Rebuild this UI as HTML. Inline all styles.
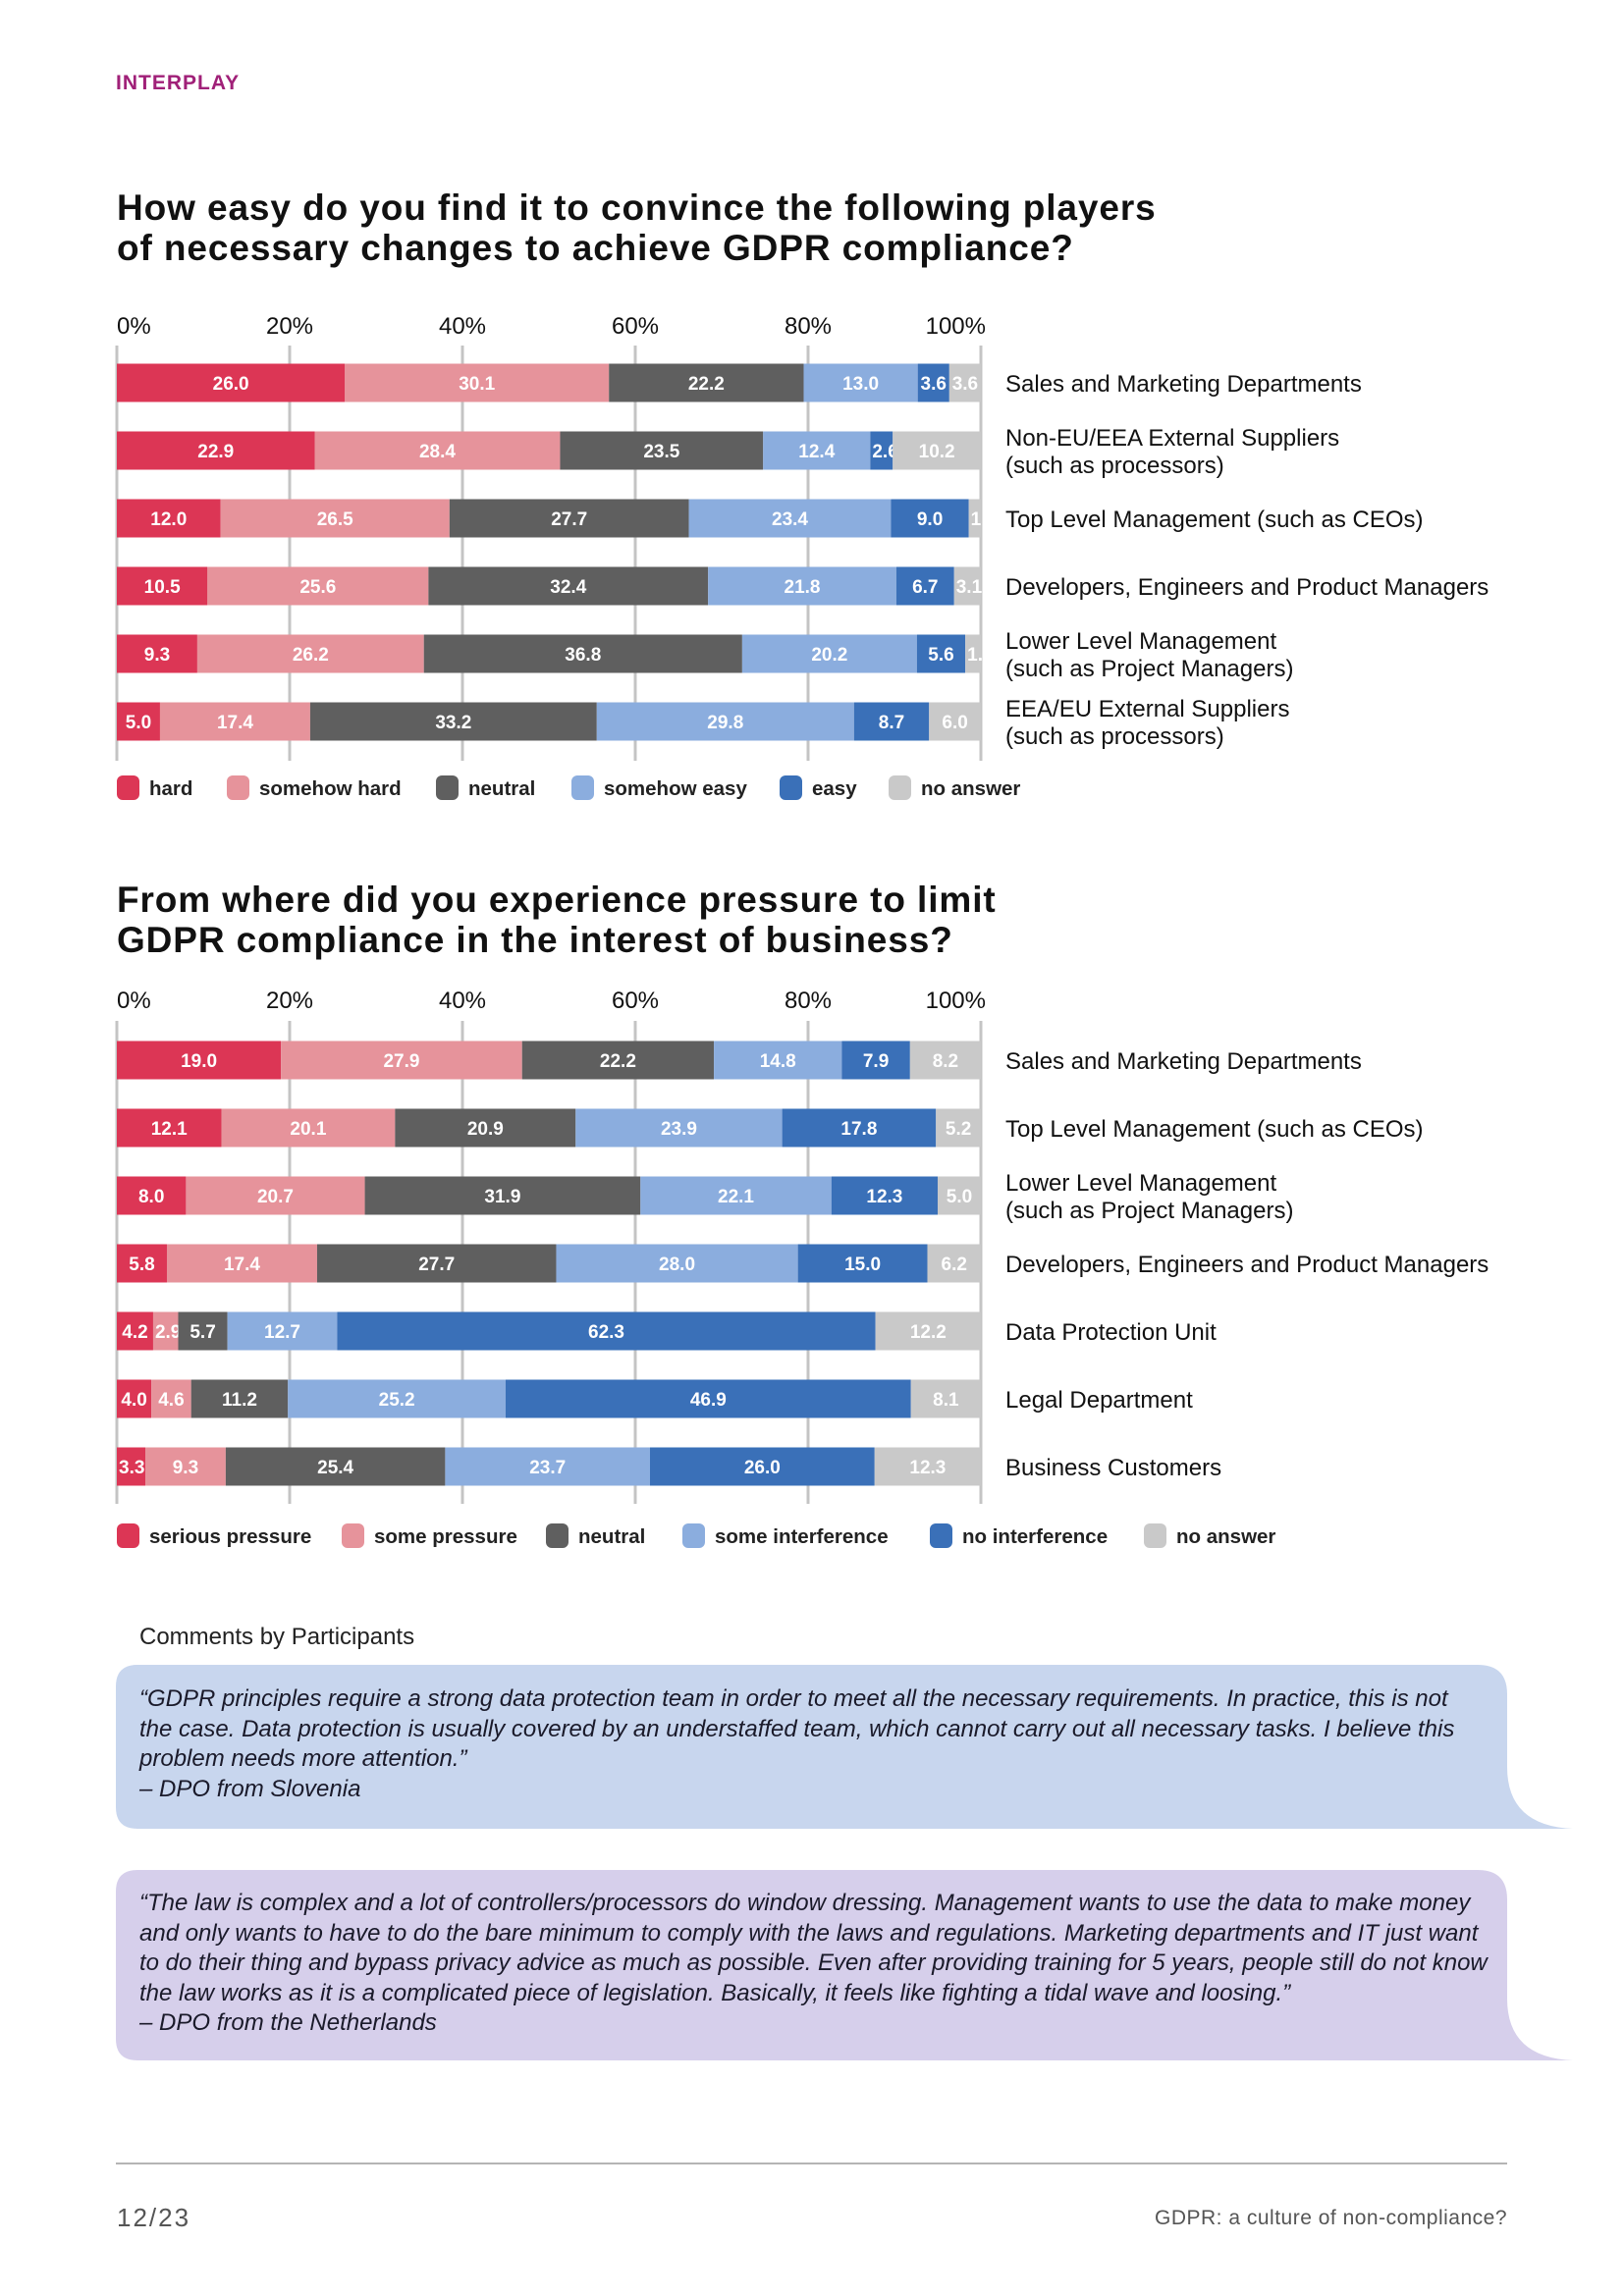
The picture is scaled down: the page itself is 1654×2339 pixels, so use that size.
<!DOCTYPE html>
<html><head><meta charset="utf-8">
<style>
body{margin:0;background:#fff;}
#page{position:relative;width:1654px;height:2339px;overflow:hidden;font-family:"Liberation Sans",sans-serif;color:#111;}
.abs{position:absolute;white-space:nowrap;}
.title{font-weight:bold;font-size:37px;line-height:41px;letter-spacing:0.9px;}
.quote{font-style:italic;font-size:24px;line-height:30.5px;color:#1a1a2a;white-space:normal;}
</style></head>
<body>
<div id="page">
<div class="abs" style="left:118px;top:73px;font-size:21px;font-weight:bold;color:#a02078;letter-spacing:1px;">INTERPLAY</div>
<div class="abs title" style="left:119px;top:191px;">How easy do you find it to convince the following players<br>of necessary changes to achieve GDPR compliance?</div>
<div class="abs title" style="left:119px;top:896px;">From where did you experience pressure to limit<br>GDPR compliance in the interest of business?</div>
<svg id="charts" class="abs" style="left:0;top:0" width="1654" height="1620"></svg>
<div class="abs" style="left:142px;top:1654px;font-size:24px;color:#222;">Comments by Participants</div>
<svg class="abs" style="left:0;top:1690px" width="1654" height="440">
<path fill="#c8d6ee" d="M140,6 H1505 Q1535,6 1535,36 V110 Q1535,170 1602,173 H140 Q118,173 118,151 V28 Q118,6 140,6 Z"/>
<path fill="#d6cfeb" d="M140,215 H1505 Q1535,215 1535,245 V346 Q1535,406 1602,409 H140 Q118,409 118,387 V237 Q118,215 140,215 Z"/>
</svg>
<div class="abs quote" style="left:142px;top:1716px;width:1370px;">“GDPR principles require a strong data protection team in order to meet all the necessary requirements. In practice, this is not the case. Data protection is usually covered by an understaffed team, which cannot carry out all necessary tasks. I believe this problem needs more attention.”<br>– DPO from Slovenia</div>
<div class="abs quote" style="left:142px;top:1924px;width:1375px;">“The law is complex and a lot of controllers/processors do window dressing. Management wants to use the data to make money and only wants to have to do the bare minimum to comply with the laws and regulations. Marketing departments and IT just want to do their thing and bypass privacy advice as much as possible. Even after providing training for 5 years, people still do not know the law works as it is a complicated piece of legislation. Basically, it feels like fighting a tidal wave and loosing.”<br>– DPO from the Netherlands</div>
<div class="abs" style="left:118px;top:2203px;width:1417px;height:2px;background:#b5b5b5;"></div>
<div class="abs" style="left:119px;top:2244px;font-size:26px;color:#555;letter-spacing:2px;">12/23</div>
<div class="abs" style="right:119px;top:2248px;font-size:21px;color:#555;letter-spacing:0.5px;">GDPR: a culture of non-compliance?</div>
</div>
<script>
const NS='http://www.w3.org/2000/svg';
const c1Categories=[["Sales and Marketing Departments"],["Non-EU/EEA External Suppliers","(such as processors)"],["Top Level Management (such as CEOs)"],["Developers, Engineers and Product Managers"],["Lower Level Management","(such as Project Managers)"],["EEA/EU External Suppliers","(such as processors)"]];
const c1Hard=[26.0,22.9,12.0,10.5,9.3,5.0];
const c1SomeHard=[30.1,28.4,26.5,25.6,26.2,17.4];
const c1Neutral=[22.2,23.5,27.7,32.4,36.8,33.2];
const c1SomeEasy=[13.0,12.4,23.4,21.8,20.2,29.8];
const c1Easy=[3.6,2.6,9.0,6.7,5.6,8.7];
const c1NoAnswer=[3.6,10.2,1.4,3.1,1.8,6.0];
const c1Legend=["hard","somehow hard","neutral","somehow easy","easy","no answer"];
const c2Categories=[["Sales and Marketing Departments"],["Top Level Management (such as CEOs)"],["Lower Level Management","(such as Project Managers)"],["Developers, Engineers and Product Managers"],["Data Protection Unit"],["Legal Department"],["Business Customers"]];
const c2Serious=[19.0,12.1,8.0,5.8,4.2,4.0,3.3];
const c2Some=[27.9,20.1,20.7,17.4,2.9,4.6,9.3];
const c2Neutral=[22.2,20.9,31.9,27.7,5.7,11.2,25.4];
const c2SomeInt=[14.8,23.9,22.1,28.0,12.7,25.2,23.7];
const c2NoInt=[7.9,17.8,12.3,15.0,62.3,46.9,26.0];
const c2NoAnswer=[8.2,5.2,5.0,6.2,12.2,8.1,12.3];
const c2Legend=["serious pressure","some pressure","neutral","some interference","no interference","no answer"];
const tickLabels=["0%","20%","40%","60%","80%","100%"];
const tickValues=[0,20,40,60,80,100];
const colors=["#dc3655","#e6939b","#5f5f5f","#8badde","#3a70b8","#c9c9c9"];
const svg=document.getElementById('charts');
function el(t,a,txt){const e=document.createElementNS(NS,t);for(const k in a)e.setAttribute(k,a[k]);if(txt!==undefined)e.textContent=txt;svg.appendChild(e);return e;}
function drawChart(id,cats,series,legend,tickY,gridTop,gridBot,firstY,legendY,legendX){
  const x0=119,x1=999;
  const xs=v=>x0+(x1-x0)*v/100;
  const ys=i=>firstY+69*i;
  tickValues.forEach((t,i)=>{
    const g=el('line',{x1:xs(t),x2:xs(t),y1:gridTop,y2:gridBot,stroke:'#c4c4c4','stroke-width':3});
    
    
    const anchor=i===0?'start':(i===tickValues.length-1?'end':'middle');
    const tx=el('text',{x:xs(t)+(i===tickValues.length-1?5:0),y:tickY,'font-size':24,'text-anchor':anchor,fill:'#111'},tickLabels[i]);
    
    
  });
  cats.forEach((cat,r)=>{
    let total=0;series.forEach(s=>total+=s[r]);
    let acc=0;const yc=ys(r);
    series.forEach((s,k)=>{
      const v=s[r]/total*100;
      const rc=el('rect',{x:xs(acc),y:yc-19.5,width:xs(acc+v)-xs(acc),height:39,fill:colors[k]});
      
      
      const w=xs(acc+v)-xs(acc);
      const lx=w<30?xs(acc)+2:(xs(acc)+xs(acc+v))/2;
      const lt=el('text',{x:lx,y:yc+7,'font-size':19,'font-weight':'bold','text-anchor':w<30?'start':'middle',fill:'#fff'},s[r].toFixed(1));
      
      
      acc+=v;
    });
    const n=cat.length;
    cat.forEach((line,j)=>{
      const t=el('text',{x:1024,y:yc+9+(j-(n-1)/2)*28,'font-size':24,fill:'#111'},line);
      
      
    });
  });
  legend.forEach((lab,k)=>{
    const sw=el('rect',{x:legendX[k],y:legendY-12,width:23,height:25,rx:6,fill:colors[k]});
    
    
    const t=el('text',{x:legendX[k]+33,y:legendY+8,'font-size':20.5,'font-weight':'bold',fill:'#222'},lab);
    
    
  });
}
drawChart('chart1',c1Categories,[c1Hard,c1SomeHard,c1Neutral,c1SomeEasy,c1Easy,c1NoAnswer],c1Legend,340,352,775,390,802,[119,231,444,582,794,905]);
drawChart('chart2',c2Categories,[c2Serious,c2Some,c2Neutral,c2SomeInt,c2NoInt,c2NoAnswer],c2Legend,1027,1040,1532,1080,1564,[119,348,556,695,947,1165]);
</script>
</body></html>
